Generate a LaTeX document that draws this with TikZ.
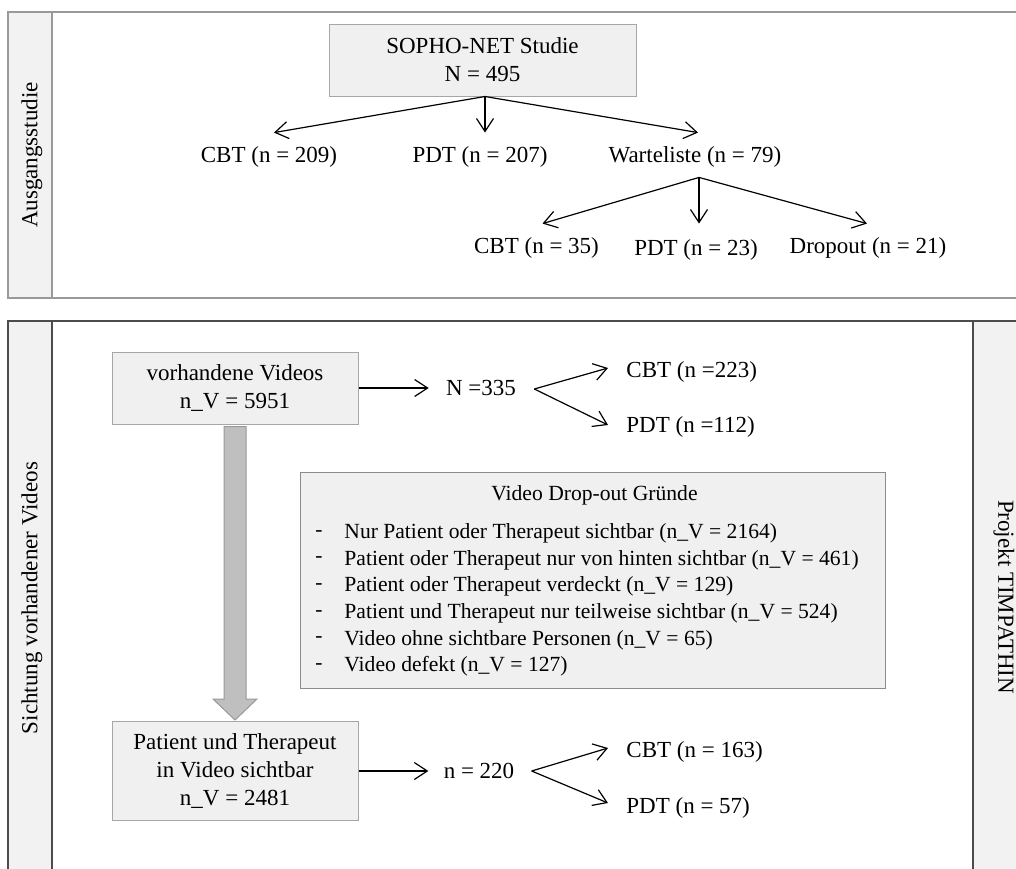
\documentclass[tikz,border=0pt]{standalone}
\usepackage{fontspec}
\setmainfont{Liberation Serif}
\usetikzlibrary{arrows.meta,calc}
\begin{document}
\begin{tikzpicture}[x=0.5pt,y=-0.5pt,
  txt/.style={font=\fontsize{11.5}{14}\selectfont, inner sep=0pt},
  small/.style={font=\fontsize{10.8}{13}\selectfont, inner sep=0pt},
  box/.style={draw=black!35, fill=black!6, line width=0.5pt, align=center,
    font=\fontsize{11.5}{14}\selectfont, inner sep=0pt},
  arr/.style={-{Straight Barb[length=6.5pt,width=8.5pt]}, line width=0.6pt},
  toppanel/.style={draw=black!40, line width=0.8pt},
  lowpanel/.style={draw=black!70, line width=0.8pt},
  strip/.style={fill=black!5},
  bigarrow/.style={fill=black!25, draw=black!40, line width=0.5pt}
]
\useasboundingbox (0,0) rectangle (1016,868);
\clip (0,0) rectangle (1016,868);

% ---------- top panel ----------
\draw[toppanel] (8,12) rectangle (1040,298);
\draw[toppanel,strip] (8,12) rectangle (52,298);
\node[txt, rotate=90] (lab1) at (32,155) {Ausgangsstudie};

\node[box, minimum width=153.5pt, minimum height=36pt] (sopho) at (482.5,60)
  {SOPHO-NET Studie\\N = 495};
\node[txt] (cbt1) at (269,157) {CBT (n = 209)};
\node[txt] (pdt1) at (480,157) {PDT (n = 207)};
\node[txt] (wl) at (695,157) {Warteliste (n = 79)};
\node[txt] (cbt1b) at (536.5,248) {CBT (n = 35)};
\node[txt] (pdt1b) at (696,250) {PDT (n = 23)};
\node[txt] (drop) at (868,248) {Dropout (n = 21)};

\draw[arr] ([xshift=1.25pt]sopho.south) -- ([xshift=2.5pt,yshift=6.8pt]cbt1.north);
\draw[arr] ([xshift=1.25pt]sopho.south) -- ([xshift=2.5pt,yshift=6.8pt]pdt1.north);
\draw[arr] ([xshift=1.25pt]sopho.south) -- ([xshift=1.5pt,yshift=6.8pt]wl.north);
\coordinate (wls) at ([xshift=2pt,yshift=-4.8pt]wl.south);
\draw[arr] (wls) -- ([xshift=3pt,yshift=6.8pt]cbt1b.north);
\draw[arr] (wls) -- ([xshift=1.5pt,yshift=7.8pt]pdt1b.north);
\draw[arr] (wls) -- ([xshift=-0.5pt,yshift=6.8pt]drop.north);

% ---------- lower panel ----------
\draw[lowpanel] (8,321) rectangle (1040,880);
\draw[lowpanel,strip] (8,321) rectangle (52,880);
\draw[lowpanel,strip] (973,321) rectangle (1040,880);
\node[txt, rotate=90] (lab2) at (32,598) {Sichtung vorhandener Videos};
\node[txt, rotate=-90] (lab3) at (1004,597) {Projekt TIMPATHIN};

\node[box, minimum width=123pt, minimum height=36pt] (vid) at (235,388)
  {vorhandene Videos\\n\_V = 5951};
\node[txt] (n335) at (481,388) {N =335};
\node[txt, anchor=west] (cbt2) at (626,372) {CBT (n =223)};
\node[txt, anchor=west] (pdt2) at (626,427) {PDT (n =112)};
\draw[arr] (vid.east) -- ([xshift=-8.5pt]n335.west);
\coordinate (f1) at ([xshift=9pt,yshift=-0.5pt]n335.east);
\draw[arr] (f1) -- ([xshift=-9pt,yshift=2pt]cbt2.west);
\draw[arr] (f1) -- ([xshift=-9pt,yshift=1pt]pdt2.west);

\node[box, draw=black!45, minimum width=292.5pt, minimum height=108pt] (dbox) at (592.5,580) {};
\node[small] (dtitle) at (594.5,495) {Video Drop-out Gründe};
\foreach \i/\t in {0/{Nur Patient oder Therapeut sichtbar (n\_V = 2164)},
                   1/{Patient oder Therapeut nur von hinten sichtbar (n\_V = 461)},
                   2/{Patient oder Therapeut verdeckt (n\_V = 129)},
                   3/{Patient und Therapeut nur teilweise sichtbar (n\_V = 524)},
                   4/{Video ohne sichtbare Personen (n\_V = 65)},
                   5/{Video defekt (n\_V = 127)}}{
  \node[small] (dash\i) at (319,533.3+26.67*\i) {-};
  \node[small, anchor=west] (item\i) at (344,533.3+26.67*\i) {\t};
}

\node[box, minimum width=123pt, minimum height=49.5pt] (pat) at (235,771)
  {Patient und Therapeut\\in Video sichtbar\\n\_V = 2481};
\node[txt] (n220) at (479,771) {n = 220};
\node[txt, anchor=west] (cbt3) at (626,752) {CBT (n = 163)};
\node[txt, anchor=west] (pdt3) at (626,808) {PDT (n = 57)};
\draw[arr] (pat.east) -- ([xshift=-7.5pt]n220.west);
\coordinate (f2) at ([xshift=8.5pt]n220.east);
\draw[arr] (f2) -- ([xshift=-9pt,yshift=2pt]cbt3.west);
\draw[arr] (f2) -- ([xshift=-9pt,yshift=2.5pt]pdt3.west);

% big gray arrow from vid to pat
\draw[bigarrow] ($(vid.south)+(-11,2)$) -- ($(pat.north)+(-11,-22)$)
  -- ($(pat.north)+(-22,-22)$) -- ($(pat.north)+(0,-1)$)
  -- ($(pat.north)+(22,-22)$) -- ($(pat.north)+(11,-22)$)
  -- ($(vid.south)+(11,2)$) -- cycle;
\end{tikzpicture}
\end{document}
